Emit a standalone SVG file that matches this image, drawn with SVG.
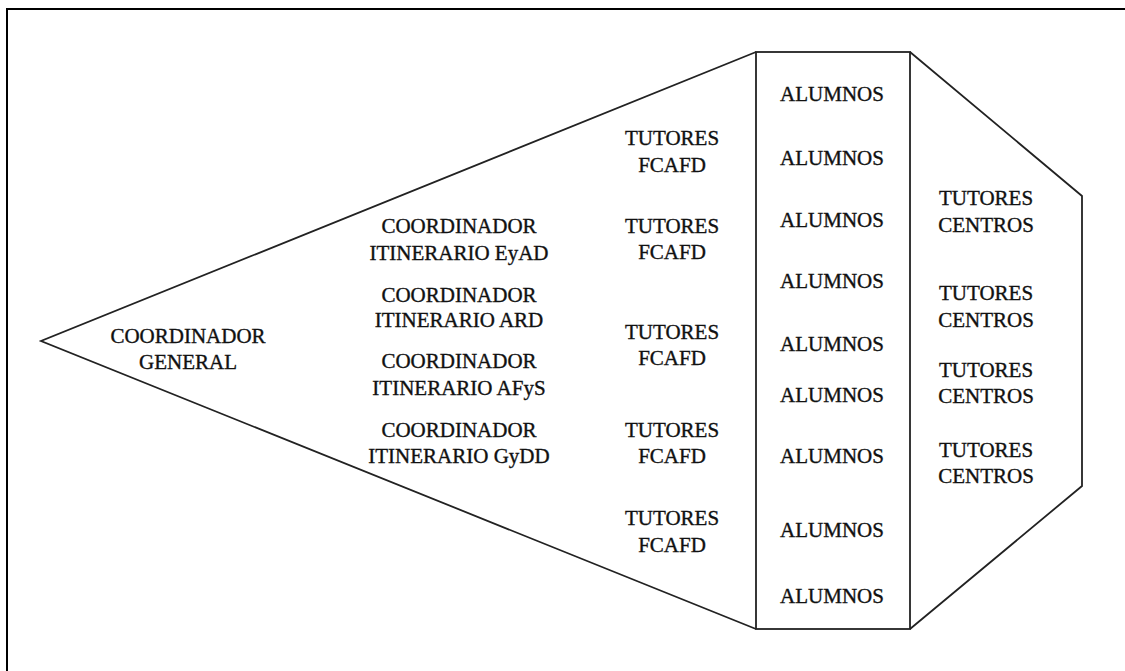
<svg xmlns="http://www.w3.org/2000/svg" width="1125" height="671" viewBox="0 0 1125 671">
<style>
.t{font-family:"Liberation Serif","Times New Roman",serif;font-size:21px;fill:#111;stroke:#111;stroke-width:0.35;text-anchor:middle}
.ln{fill:none;stroke:#222;stroke-width:1.8;stroke-linejoin:miter}
</style>
<rect x="0" y="0" width="1125" height="671" fill="#fff"/>
<path d="M7,671 V9 H1125" fill="none" stroke="#000" stroke-width="2"/>
<g id="connectors">
<path class="ln" d="M756,52 L41,341 L756,629"/>
<path class="ln" d="M910,52 L1082,196 L1082,486 L910,629"/>
</g>
<g id="alumnos-box">
<rect class="ln" x="756" y="52" width="154" height="577" stroke-width="2"/>
</g>
<g id="coord-general">
<text class="t" x="188" y="343">COORDINADOR</text>
<text class="t" x="188" y="369">GENERAL</text>
</g>
<g id="coord-eyad">
<text class="t" x="459" y="233">COORDINADOR</text>
<text class="t" x="459" y="260">ITINERARIO EyAD</text>
</g>
<g id="coord-ard">
<text class="t" x="459" y="302">COORDINADOR</text>
<text class="t" x="459" y="327">ITINERARIO ARD</text>
</g>
<g id="coord-afys">
<text class="t" x="459" y="368">COORDINADOR</text>
<text class="t" x="459" y="395">ITINERARIO AFyS</text>
</g>
<g id="coord-gydd">
<text class="t" x="459" y="437">COORDINADOR</text>
<text class="t" x="459" y="463">ITINERARIO GyDD</text>
</g>
<g id="tutores-fcafd-1"><text class="t" x="672" y="145">TUTORES</text><text class="t" x="672" y="172">FCAFD</text></g>
<g id="tutores-fcafd-2"><text class="t" x="672" y="233">TUTORES</text><text class="t" x="672" y="259">FCAFD</text></g>
<g id="tutores-fcafd-3"><text class="t" x="672" y="339">TUTORES</text><text class="t" x="672" y="365">FCAFD</text></g>
<g id="tutores-fcafd-4"><text class="t" x="672" y="437">TUTORES</text><text class="t" x="672" y="463">FCAFD</text></g>
<g id="tutores-fcafd-5"><text class="t" x="672" y="525">TUTORES</text><text class="t" x="672" y="552">FCAFD</text></g>
<g id="alumnos-1"><text class="t" x="832" y="101">ALUMNOS</text></g>
<g id="alumnos-2"><text class="t" x="832" y="165">ALUMNOS</text></g>
<g id="alumnos-3"><text class="t" x="832" y="227">ALUMNOS</text></g>
<g id="alumnos-4"><text class="t" x="832" y="288">ALUMNOS</text></g>
<g id="alumnos-5"><text class="t" x="832" y="351">ALUMNOS</text></g>
<g id="alumnos-6"><text class="t" x="832" y="402">ALUMNOS</text></g>
<g id="alumnos-7"><text class="t" x="832" y="463">ALUMNOS</text></g>
<g id="alumnos-8"><text class="t" x="832" y="537">ALUMNOS</text></g>
<g id="alumnos-9"><text class="t" x="832" y="603">ALUMNOS</text></g>
<g id="tutores-centros-1"><text class="t" x="986" y="205">TUTORES</text><text class="t" x="986" y="232">CENTROS</text></g>
<g id="tutores-centros-2"><text class="t" x="986" y="300">TUTORES</text><text class="t" x="986" y="327">CENTROS</text></g>
<g id="tutores-centros-3"><text class="t" x="986" y="377">TUTORES</text><text class="t" x="986" y="403">CENTROS</text></g>
<g id="tutores-centros-4"><text class="t" x="986" y="457">TUTORES</text><text class="t" x="986" y="483">CENTROS</text></g>
</svg>
